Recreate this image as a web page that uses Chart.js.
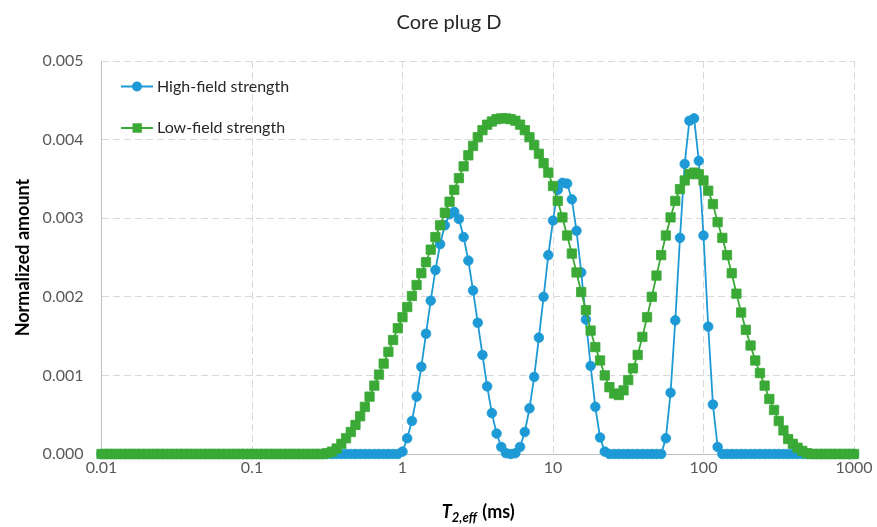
<!DOCTYPE html>
<html lang="en">
<head>
<meta charset="UTF-8">
<title>Core plug D</title>
<script src="https://cdn.jsdelivr.net/npm/chart.js"></script>
<style>
  html, body { margin: 0; padding: 0; background: #fff; }
  #wrap { width: 877px; height: 527px; }
</style>
</head>
<body>
<div id="wrap"><canvas id="chartT2" width="877" height="527"></canvas></div>
<script>
// T2,eff grid (ms), 32 points per decade
const t2ms = [
  0.01, 0.01075, 0.01155, 0.01241, 0.01334, 0.01433, 0.0154, 0.01655, 0.01778, 0.01911, 0.02054, 0.02207, 0.02371, 0.02548, 0.02738, 0.02943,
  0.03162, 0.03398, 0.03652, 0.03924, 0.04217, 0.04532, 0.0487, 0.05233, 0.05623, 0.06043, 0.06494, 0.06978, 0.07499, 0.08058, 0.0866, 0.09306,
  0.1, 0.1075, 0.1155, 0.1241, 0.1334, 0.1433, 0.154, 0.1655, 0.1778, 0.1911, 0.2054, 0.2207, 0.2371, 0.2548, 0.2738, 0.2943,
  0.3162, 0.3398, 0.3652, 0.3924, 0.4217, 0.4532, 0.487, 0.5233, 0.5623, 0.6043, 0.6494, 0.6978, 0.7499, 0.8058, 0.866, 0.9306,
  1, 1.075, 1.155, 1.241, 1.334, 1.433, 1.54, 1.655, 1.778, 1.911, 2.054, 2.207, 2.371, 2.548, 2.738, 2.943,
  3.162, 3.398, 3.652, 3.924, 4.217, 4.532, 4.87, 5.233, 5.623, 6.043, 6.494, 6.978, 7.499, 8.058, 8.66, 9.306,
  10, 10.75, 11.55, 12.41, 13.34, 14.33, 15.4, 16.55, 17.78, 19.11, 20.54, 22.07, 23.71, 25.48, 27.38, 29.43,
  31.62, 33.98, 36.52, 39.24, 42.17, 45.32, 48.7, 52.33, 56.23, 60.43, 64.94, 69.78, 74.99, 80.58, 86.6, 93.06,
  100, 107.5, 115.5, 124.1, 133.4, 143.3, 154, 165.5, 177.8, 191.1, 205.4, 220.7, 237.1, 254.8, 273.8, 294.3,
  316.2, 339.8, 365.2, 392.4, 421.7, 453.2, 487, 523.3, 562.3, 604.3, 649.4, 697.8, 749.9, 805.8, 866, 930.6,
  1000
];

const highField = [
  0, 0, 0, 0, 0, 0, 0, 0, 0, 0, 0, 0, 0, 0, 0, 0,
  0, 0, 0, 0, 0, 0, 0, 0, 0, 0, 0, 0, 0, 0, 0, 0,
  0, 0, 0, 0, 0, 0, 0, 0, 0, 0, 0, 0, 0, 0, 0, 0,
  0, 0, 0, 0, 0, 0, 0, 0, 0, 0, 0, 0, 0, 0, 0, 0,
  0.00003, 0.00020, 0.00042, 0.00073, 0.00111, 0.00153, 0.00195, 0.00234, 0.00267, 0.00291, 0.00305, 0.00308, 0.00299, 0.00276, 0.00246, 0.00208,
  0.00167, 0.00126, 0.00086, 0.00052, 0.00026, 0.00009, 0.00001, 0, 0.00001, 0.00009, 0.00028, 0.00058, 0.00098, 0.00148, 0.00200, 0.00253,
  0.00297, 0.00336, 0.00345, 0.00344, 0.00324, 0.00284, 0.00231, 0.00171, 0.00112, 0.00060, 0.00021, 0.00003, 0, 0, 0, 0,
  0, 0, 0, 0, 0, 0, 0, 0, 0.00020, 0.00078, 0.00170, 0.00275, 0.00369, 0.00424, 0.00427, 0.00373,
  0.00278, 0.00162, 0.00063, 0.00009, 0, 0, 0, 0, 0, 0, 0, 0, 0, 0, 0, 0,
  0, 0, 0, 0, 0, 0, 0, 0, 0, 0, 0, 0, 0, 0, 0, 0,
  0
];

const lowField = [
  0, 0, 0, 0, 0, 0, 0, 0, 0, 0, 0, 0, 0, 0, 0, 0,
  0, 0, 0, 0, 0, 0, 0, 0, 0, 0, 0, 0, 0, 0, 0, 0,
  0, 0, 0, 0, 0, 0, 0, 0, 0, 0, 0, 0, 0, 0, 0, 0,
  0.00001, 0.00003, 0.00007, 0.00013, 0.00020, 0.00028, 0.00037, 0.00048, 0.00060, 0.00073, 0.00087, 0.00101, 0.00115, 0.00130, 0.00145, 0.00160,
  0.00174, 0.00187, 0.00201, 0.00215, 0.00230, 0.00244, 0.00260, 0.00276, 0.00291, 0.00307, 0.00321, 0.00336, 0.00351, 0.00366, 0.00380, 0.00392,
  0.00403, 0.00412, 0.00419, 0.00423, 0.00426, 0.00427, 0.00427, 0.00426, 0.00424, 0.00419, 0.00412, 0.00403, 0.00393, 0.00382, 0.00370, 0.00358,
  0.00341, 0.00322, 0.00301, 0.00278, 0.00255, 0.00231, 0.00206, 0.00183, 0.00157, 0.00136, 0.00119, 0.00100, 0.00085, 0.00077, 0.00075, 0.00081,
  0.00094, 0.00109, 0.00126, 0.00149, 0.00174, 0.00200, 0.00227, 0.00253, 0.00278, 0.00301, 0.00322, 0.00337, 0.00348, 0.00356, 0.00358, 0.00356,
  0.00348, 0.00335, 0.00318, 0.00295, 0.00275, 0.00253, 0.00230, 0.00204, 0.00180, 0.00158, 0.00138, 0.00119, 0.00103, 0.00087, 0.00070, 0.00056,
  0.00042, 0.00030, 0.00019, 0.00013, 0.00008, 0.00004, 0.00001, 0, 0, 0, 0, 0, 0, 0, 0, 0,
  0
];

const xTickValues = [0.01, 0.1, 1, 10, 100, 1000];
const seriesNames = ['High-field strength', 'Low-field strength'];
const chartTitle = 'Core plug D';
const yAxisTitle = 'Normalized amount';

const BLUE = '#1d9ad6';
const GREEN = '#3aa935';
const FONT = 'Lato, "Open Sans", sans-serif';

// title, legend and the x title with subscript are drawn by hand
const decorations = {
  id: 'decorations',
  afterDraw(chart) {
    const ctx = chart.ctx;
    ctx.save();
    ctx.fillStyle = '#262626';
    ctx.textBaseline = 'middle';
    ctx.textAlign = 'center';
    ctx.font = '20px ' + FONT;
    ctx.fillText(chartTitle, 449, 23);

    // legend
    ctx.textAlign = 'left';
    ctx.font = '16px ' + FONT;
    const rows = [
      {y: 86.5, color: BLUE, shape: 'circle', text: seriesNames[0]},
      {y: 128, color: GREEN, shape: 'rect', text: seriesNames[1]}
    ];
    rows.forEach(r => {
      ctx.strokeStyle = r.color;
      ctx.lineWidth = 2;
      ctx.beginPath();
      ctx.moveTo(121, r.y);
      ctx.lineTo(153, r.y);
      ctx.stroke();
      ctx.fillStyle = r.color;
      ctx.beginPath();
      if (r.shape === 'circle') ctx.arc(137, r.y, 5, 0, Math.PI * 2);
      else ctx.rect(132.5, r.y - 4.7, 9.4, 9.4);
      ctx.fill();
      ctx.fillStyle = '#262626';
      ctx.fillText(r.text, 157, r.y);
    });

    // x axis title: T2,eff (ms)
    const a = chart.chartArea;
    const cx = (a.left + a.right) / 2;
    const base = 518;
    const big = 'italic bold 18px ' + FONT;
    const sub = 'italic bold 13px ' + FONT;
    const tail = 'bold 18px ' + FONT;
    ctx.textBaseline = 'alphabetic';
    ctx.font = big; const w1 = ctx.measureText('T').width;
    ctx.font = sub; const w2 = ctx.measureText('2,eff').width;
    ctx.font = tail; const w3 = ctx.measureText(' (ms)').width;
    let x = cx - (w1 + w2 + w3) / 2;
    ctx.fillStyle = '#000';
    ctx.font = big; ctx.fillText('T', x, base); x += w1;
    ctx.font = sub; ctx.fillText('2,eff', x, base + 4); x += w2 + 1;
    ctx.font = tail; ctx.fillText(' (ms)', x, base);
    ctx.restore();
  }
};

const gridOpts = { color: '#d9d9d9', lineWidth: 1, drawTicks: false };
const borderOpts = { display: true, color: '#bfbfbf', width: 1, dash: [7, 4] };

new Chart(document.getElementById('chartT2'), {
  type: 'line',
  data: {
    datasets: [
      {
        label: seriesNames[0],
        data: t2ms.map((t, i) => ({x: t, y: highField[i]})),
        borderColor: BLUE,
        backgroundColor: BLUE,
        borderWidth: 1.8,
        pointStyle: 'circle',
        pointRadius: 4.8,
        pointBorderWidth: 0.8,
        pointBorderColor: BLUE,
        pointBackgroundColor: BLUE,
        tension: 0,
        clip: false,
        order: 1
      },
      {
        label: seriesNames[1],
        data: t2ms.map((t, i) => ({x: t, y: lowField[i]})),
        borderColor: GREEN,
        backgroundColor: GREEN,
        borderWidth: 1.8,
        pointStyle: 'rect',
        pointRadius: 6.6,
        pointBorderWidth: 0.8,
        pointBorderColor: GREEN,
        pointBackgroundColor: GREEN,
        tension: 0,
        clip: false,
        order: 0
      }
    ]
  },
  options: {
    responsive: false,
    animation: false,
    layout: { padding: { left: 12, right: 23, top: 61, bottom: 0 } },
    plugins: {
      legend: { display: false },
      title: { display: false },
      tooltip: { enabled: false }
    },
    scales: {
      x: {
        type: 'logarithmic',
        min: 0.01,
        max: 1000,
        afterBuildTicks: s => { s.ticks = xTickValues.map(v => ({value: v})); },
        afterFit: s => { s.height = 73; },
        grid: gridOpts,
        border: borderOpts,
        ticks: {
          autoSkip: false,
          maxRotation: 0,
          padding: 4,
          color: '#595959',
          font: { family: FONT, size: 16 },
          callback: v => String(v)
        }
      },
      y: {
        min: 0,
        max: 0.005,
        afterFit: s => { s.width = 89.5; },
        grid: gridOpts,
        border: borderOpts,
        ticks: {
          stepSize: 0.001,
          padding: 18,
          color: '#595959',
          font: { family: FONT, size: 16 },
          callback: v => v.toFixed(3)
        },
        title: {
          display: true,
          text: yAxisTitle,
          color: '#000',
          padding: 0,
          font: { family: FONT, size: 18, weight: 'bold' }
        }
      }
    }
  },
  plugins: [decorations]
});
</script>
</body>
</html>
